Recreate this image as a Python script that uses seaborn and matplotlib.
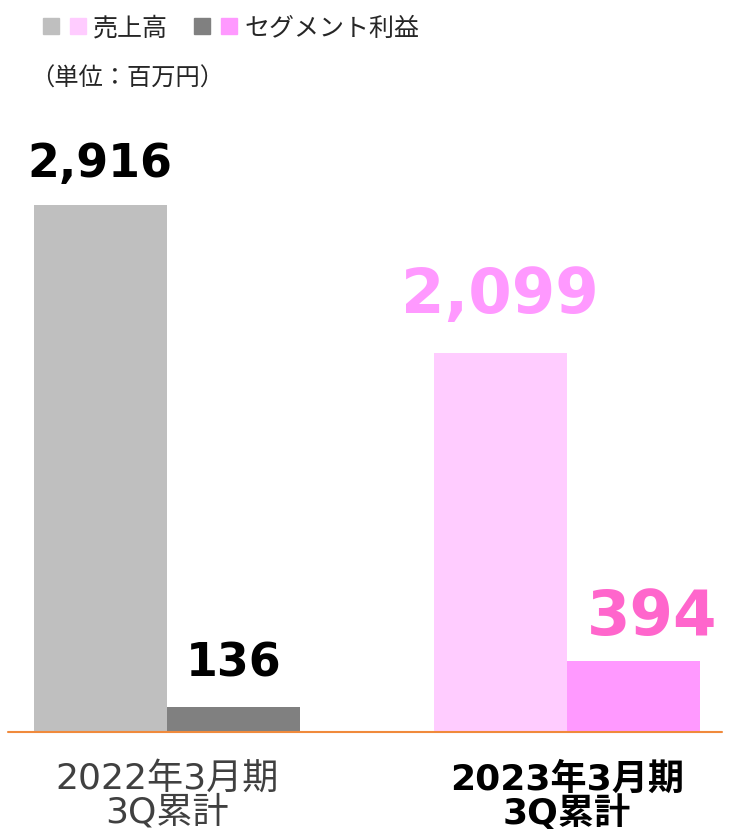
import matplotlib
matplotlib.use("Agg")
import matplotlib.pyplot as plt
import seaborn as sns
import pandas as pd
from matplotlib.patches import Patch
from matplotlib.legend_handler import HandlerTuple

# data
periods = ["2022年3月期\n3Q累計", "2023年3月期\n3Q累計"]
series = ["売上高", "セグメント利益"]
sales = [2916, 2099]
segment_profit = [136, 394]

# colours per period (sales, profit)
bar_colors = [["#BFBFBF", "#808080"], ["#FFCCFF", "#FF99FF"]]
label_colors = [["#000000", "#000000"], ["#FF99FF", "#FF66CC"]]
label_sizes = [33, 45]

df = pd.DataFrame({
    "period": periods * 2,
    "series": [series[0]] * 2 + [series[1]] * 2,
    "value": sales + segment_profit,
})

sns.set_theme(style="white")
plt.rcParams["font.family"] = ["Noto Sans CJK JP", "DejaVu Sans"]
mixed = ["DejaVu Sans", "Noto Sans CJK JP"]

fig = plt.figure(figsize=(7.31, 8.37), dpi=100)
W, H = 731, 837
ax = fig.add_axes([8 / W, (H - 733) / H, (722 - 8) / W, (733 - 110) / H])

sns.barplot(data=df, x="period", y="value", hue="series", order=periods,
            hue_order=series, width=0.667, dodge=True, saturation=1,
            palette=["#BFBFBF", "#808080"], legend=False, ax=ax)

ax.set_xlim(-0.3975, 1.3875)
ax.set_ylim(0, 3448)

# recolour bars and add value labels
offsets = [[(0, 21), (0, 23)], [(0, 29.5), (13.5, 19.5)]]
for s_idx, cont in enumerate(ax.containers):
    for p_idx, bar in enumerate(cont):
        bar.set_facecolor(bar_colors[p_idx][s_idx])
        bar.set_edgecolor("none")
        val = bar.get_height()
        dx, dy = offsets[p_idx][s_idx]
        ax.annotate(f"{val:,.0f}", (bar.get_x() + bar.get_width() / 2, val),
                    xytext=(dx, dy), textcoords="offset points",
                    ha="center", va="baseline", fontsize=label_sizes[p_idx],
                    fontweight="bold", family="DejaVu Sans",
                    color=label_colors[p_idx][s_idx])

ax.axhline(0, color="#F08A3C", lw=1.5, zorder=5, clip_on=False)
sns.despine(ax=ax, left=True, bottom=True)
ax.set_yticks([])
ax.set_xlabel("")
ax.set_ylabel("")
ax.tick_params(axis="x", length=0, pad=21)
for i, t in enumerate(ax.get_xticklabels()):
    t.set_family(mixed)
    t.set_fontsize(26)
    t.set_linespacing(0.97)
    if i == 0:
        t.set_color("#404040")
    else:
        t.set_color("#000000")
        t.set_fontweight("bold")

# legend
handles = [
    (Patch(color=bar_colors[0][0]), Patch(color=bar_colors[1][0])),
    (Patch(color=bar_colors[0][1]), Patch(color=bar_colors[1][1])),
]
fig.legend(handles, series, handler_map={tuple: HandlerTuple(ndivide=None, pad=0.45)},
           loc="center left", bbox_to_anchor=(43 / W, 1 - 29 / H), ncol=2,
           frameon=False, fontsize=18, handlelength=1.7, handleheight=0.6,
           handletextpad=0.3, columnspacing=1.05, borderpad=0, borderaxespad=0)

fig.text(30 / W, 1 - 79 / H, "（単位：百万円）", fontsize=17.5, va="center",
         ha="left", color="#262626")

fig.savefig("out.png", dpi=100)
